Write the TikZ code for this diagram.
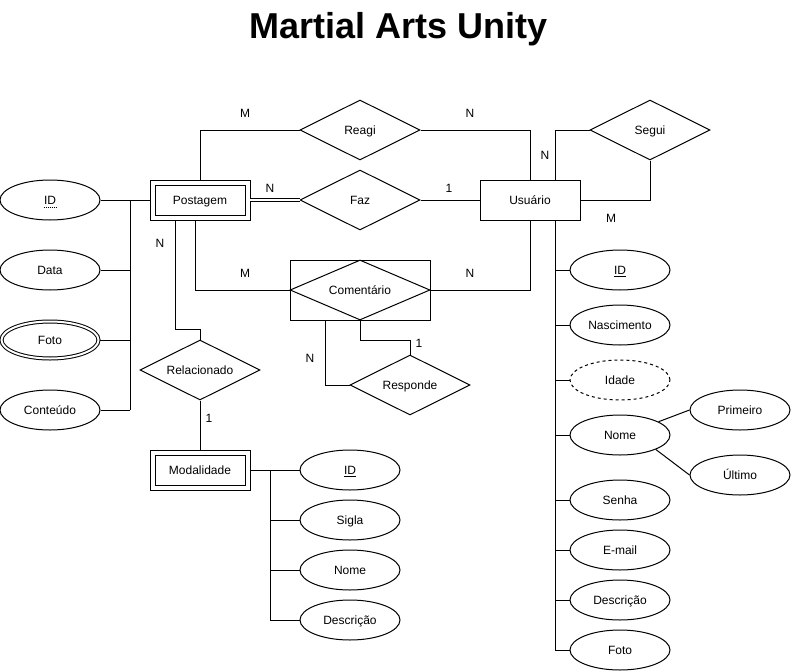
\documentclass[tikz,border=0pt]{standalone}
\usepackage{fontspec}
\setmainfont{Liberation Sans}
\usetikzlibrary{shapes.geometric}
\begin{document}
\begin{tikzpicture}[x=0.75pt,y=-0.75pt,line width=0.75pt,
  every node/.style={font=\fontsize{9}{11}\selectfont, text height=8.3pt, text depth=2pt},
  attr/.style={draw, ellipse, minimum width=75pt, minimum height=30pt, inner sep=0pt},
  dattr/.style={attr, double, double distance=1.5pt, minimum width=72.75pt, minimum height=27.75pt, outer sep=1.2pt},
  deriv/.style={attr, dash pattern=on 2.25pt off 2.25pt},
  entity/.style={draw, rectangle, minimum width=75pt, minimum height=30pt, inner sep=0pt},
  wentity/.style={draw, rectangle, double, double distance=3pt, minimum width=71.25pt, minimum height=26.25pt, inner sep=0pt, outer sep=1.9pt},
  rel/.style={draw, diamond, aspect=2, minimum width=90pt, minimum height=45pt, inner sep=0pt},
  card/.style={inner sep=0pt}]
\useasboundingbox (0,0) rectangle (792,671);

% title
\node[font=\fontsize{27}{32}\selectfont\bfseries, anchor=base, inner sep=0pt, text height=, text depth=] (title) at (399,38.3) {Martial Arts Unity};

% Postagem and attributes
\node[wentity] (post) at (200,200) {Postagem};
\node[attr] (pid) at (50,200) {};
\node[inner sep=0pt] (pidt) at (pid.center) {ID};
\draw[line width=0.6pt, dash pattern=on 0.75pt off 0.75pt] ([yshift=-2.6pt]pidt.base west) -- ([yshift=-2.6pt]pidt.base east);
\node[attr] (pdata) at (50,270) {Data};
\node[dattr] (pfoto) at (50,340) {Foto};
\node[attr] (pcont) at (50,410) {Conteúdo};
\coordinate (lbus) at (130,410);
\coordinate (lbustop) at (130,200);
\draw (pid.east) -- (post.west);
\draw (lbustop) -- (lbus);
\draw (pdata.east) -- (pdata.east -| lbus);
\draw (pfoto.east) -- (pfoto.east -| lbus);
\draw (pcont.east) -- (pcont.east -| lbus);

% relationships
\node[rel] (reagi) at (360,130) {Reagi};
\node[rel] (faz) at (360,200) {Faz};
\node[entity] (usr) at (530,200) {Usuário};
\node[rel] (segui) at (650,130) {Segui};
\node[draw, rectangle, minimum width=105pt, minimum height=45pt, inner sep=0pt] (comentbox) at (360,290) {};
\node[rel, minimum width=105pt] (coment) at (360,290) {Comentário};
\node[rel] (relac) at (200,370) {Relacionado};
\node[rel] (resp) at (410,385) {Responde};
\node[wentity] (mod) at (200,470) {Modalidade};

\draw (post.north) |- (reagi.west);
\draw (reagi.east) -| (usr.north);
\draw[double, double distance=2pt] (post.east) -- (faz.west);
\draw (faz.east) -- (usr.west);
\draw ([xshift=-3.75pt]post.south) |- (coment.west);
\draw (coment.east) -| (usr.south);
\draw ([xshift=-18.75pt]post.south) |- ([yshift=7.5pt]relac.north) -- (relac.north);
\draw (relac.south) -- (mod.north);
\draw ([xshift=-26.25pt]comentbox.south) |- (resp.west);
\draw (coment.south) -- ++(0,20) -| (resp.north);
\draw ([xshift=18.75pt]usr.north) |- (segui.west);
\draw (segui.south) |- (usr.east);

% cardinalities
\node[card] (c1) at (245,113) {M};
\node[card] (c2) at (470,113) {N};
\node[card] (c3) at (270,188) {N};
\node[card] (c4) at (449,188) {1};
\node[card] (c5) at (545,155) {N};
\node[card] (c6) at (611,218) {M};
\node[card] (c7) at (160,243) {N};
\node[card] (c8) at (245,273) {M};
\node[card] (c9) at (470,273) {N};
\node[card] (c10) at (310,358) {N};
\node[card] (c11) at (419,343) {1};
\node[card] (c12) at (209,418) {1};

% Modalidade attributes
\node[attr] (mid) at (350,470) {\underline{ID}};
\node[attr] (msig) at (350,520) {Sigla};
\node[attr] (mnome) at (350,570) {Nome};
\node[attr] (mdesc) at (350,620) {Descrição};
\coordinate (mbus) at (270,620);
\coordinate (mbustop) at (270,470);
\draw (mod.east) -- (mid.west);
\draw (mbustop) -- (mbus);
\draw (msig.west) -- (msig.west -| mbus);
\draw (mnome.west) -- (mnome.west -| mbus);
\draw (mdesc.west) -- (mdesc.west -| mbus);

% Usuario attributes
\node[attr] (uid) at (620,270) {\underline{ID}};
\node[attr] (unasc) at (620,325) {Nascimento};
\node[deriv] (uidade) at (620,380) {Idade};
\node[attr] (unome) at (620,435) {Nome};
\node[attr] (usenha) at (620,500) {Senha};
\node[attr] (umail) at (620,550) {E-mail};
\node[attr] (udesc) at (620,600) {Descrição};
\node[attr] (ufoto) at (620,650) {Foto};
\node[attr] (prim) at (740,410) {Primeiro};
\node[attr] (ult) at (740,475) {Último};
\coordinate (ubus) at (555,650);
\draw ([xshift=18.75pt]usr.south) -- (ubus);
\draw (uid.west) -- (uid.west -| ubus);
\draw (unasc.west) -- (unasc.west -| ubus);
\draw (uidade.west) -- (uidade.west -| ubus);
\draw (unome.west) -- (unome.west -| ubus);
\draw (usenha.west) -- (usenha.west -| ubus);
\draw (umail.west) -- (umail.west -| ubus);
\draw (udesc.west) -- (udesc.west -| ubus);
\draw (ufoto.west) -- (ufoto.west -| ubus);
\draw (unome.19) -- (prim.west);
\draw (unome.-22) -- (ult.west);
\end{tikzpicture}
\end{document}
